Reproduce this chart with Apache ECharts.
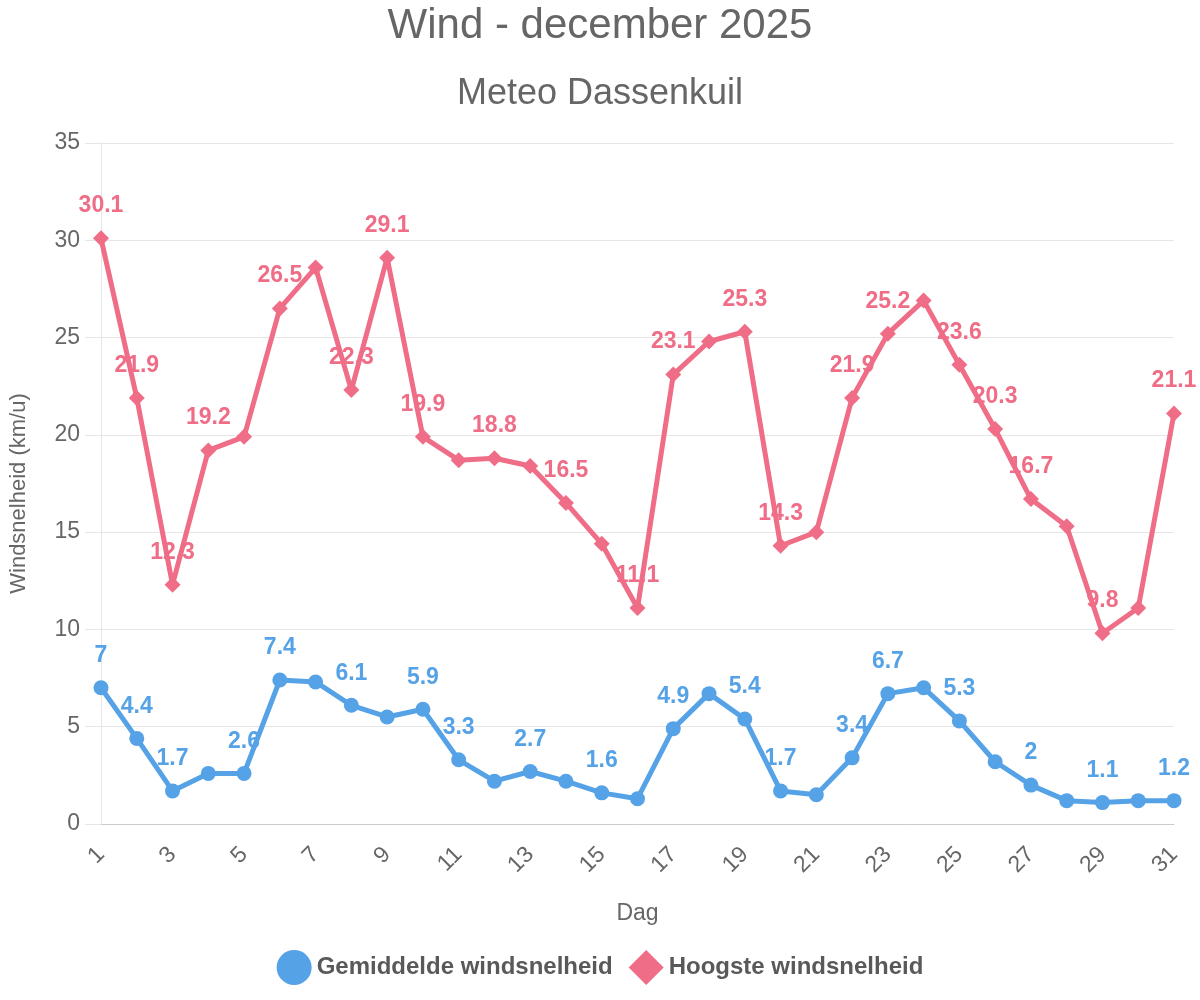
<!DOCTYPE html>
<html>
<head>
<meta charset="utf-8">
<script src="https://cdn.jsdelivr.net/npm/echarts@6/dist/echarts.min.js"></script>
<style>html,body{margin:0;padding:0;background:#fff}#c{width:1200px;height:1000px}</style>
</head>
<body>
<div id="c"></div>
<script>
const days = [1,2,3,4,5,6,7,8,9,10,11,12,13,14,15,16,17,18,19,20,21,22,23,24,25,26,27,28,29,30,31];
const avgWind = [7,4.4,1.7,2.6,2.6,7.4,7.3,6.1,5.5,5.9,3.3,2.2,2.7,2.2,1.6,1.3,4.9,6.7,5.4,1.7,1.5,3.4,6.7,7.0,5.3,3.2,2,1.2,1.1,1.2,1.2];
const maxWind = [30.1,21.9,12.3,19.2,19.9,26.5,28.6,22.3,29.1,19.9,18.7,18.8,18.4,16.5,14.4,11.1,23.1,24.8,25.3,14.3,15.0,21.9,25.2,26.9,23.6,20.3,16.7,15.3,9.8,11.1,21.1];
const avgLabelDays = [1,2,3,5,6,8,10,11,13,15,17,19,20,22,23,25,27,29,31];
const maxLabelDays = [1,2,3,4,6,8,9,10,12,14,16,17,19,20,22,23,25,26,27,29,31];
const yTicks = [0,5,10,15,20,25,30,35];

const FONT = "'Liberation Sans', Arial, Helvetica, sans-serif";
const BLUE = '#56a2e6';
const RED = '#ef6d86';

function build(vals, shown) {
  return vals.map((v, i) => ({ value: v, label: { show: shown.indexOf(days[i]) >= 0 } }));
}

const chart = echarts.init(document.getElementById('c'));
chart.setOption({
  animation: false,
  textStyle: { fontFamily: FONT },
  title: [
    { text: 'Wind - december 2025', left: 'center', top: 0,
      textStyle: { fontSize: 42, fontWeight: 'normal', color: '#666', fontFamily: FONT } },
    { text: 'Meteo Dassenkuil', left: 'center', top: 71,
      textStyle: { fontSize: 36, fontWeight: 'normal', color: '#666', fontFamily: FONT } }
  ],
  legend: {
    bottom: 10, left: 'center',
    itemWidth: 35, itemHeight: 35, itemGap: 16,
    textStyle: { fontSize: 24, fontWeight: 'bold', color: '#595959', fontFamily: FONT },
    data: [
      { name: 'Gemiddelde windsnelheid', icon: 'circle', itemStyle: { color: BLUE } },
      { name: 'Hoogste windsnelheid', icon: 'diamond', itemStyle: { color: RED } }
    ]
  },
  grid: { left: 99, right: 26, top: 143, bottom: 176, containLabel: false },
  xAxis: {
    type: 'category', data: days, boundaryGap: false,
    name: 'Dag', nameLocation: 'middle', nameGap: 78,
    nameTextStyle: { fontSize: 23, color: '#666', fontFamily: FONT },
    axisLine: { lineStyle: { color: '#ccc', width: 1 } },
    axisTick: { show: false },
    axisLabel: { interval: 1, rotate: 45, margin: 27, fontSize: 23, color: '#666', fontFamily: FONT },
    splitLine: { show: false }
  },
  yAxis: {
    type: 'value', min: 0, max: 35, interval: 5,
    name: 'Windsnelheid (km/u)', nameLocation: 'middle', nameGap: 71, nameRotate: 90,
    nameTextStyle: { fontSize: 22, color: '#666', fontFamily: FONT, padding: [0, 20, 0, 0] },
    axisLine: { show: true, lineStyle: { color: '#e6e6e6', width: 1 } },
    axisTick: { show: true, length: 16, lineStyle: { color: '#e6e6e6', width: 1 } },
    axisLabel: { margin: 21, fontSize: 23, color: '#666', fontFamily: FONT,
      formatter: v => yTicks.indexOf(v) >= 0 ? String(v) : '' },
    splitLine: { lineStyle: { color: '#e6e6e6', width: 1 } }
  },
  series: [
    {
      name: 'Gemiddelde windsnelheid', type: 'line', data: build(avgWind, avgLabelDays),
      symbol: 'circle', symbolSize: 15, showAllSymbol: true,
      lineStyle: { color: BLUE, width: 5 }, itemStyle: { color: BLUE },
      label: { position: 'top', distance: 13, fontSize: 23, fontWeight: 'bold', color: BLUE, fontFamily: FONT },
      emphasis: { disabled: true }
    },
    {
      name: 'Hoogste windsnelheid', type: 'line', data: build(maxWind, maxLabelDays),
      symbol: 'diamond', symbolSize: 16, showAllSymbol: true,
      lineStyle: { color: RED, width: 5 }, itemStyle: { color: RED },
      label: { position: 'top', distance: 13, fontSize: 23, fontWeight: 'bold', color: RED, fontFamily: FONT },
      emphasis: { disabled: true }
    }
  ]
});
</script>
</body>
</html>
